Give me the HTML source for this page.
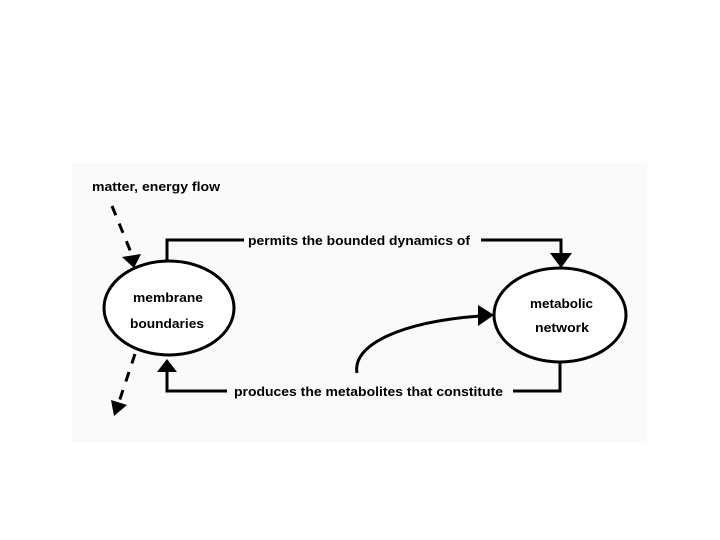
<!DOCTYPE html>
<html><head><meta charset="utf-8"><style>
html,body{margin:0;padding:0;background:#fff;}
svg{display:block;}
text{font-family:"Liberation Sans",sans-serif;font-size:13px;font-weight:bold;fill:#000;}
</style></head><body>
<svg width="720" height="540" viewBox="0 0 720 540">
<rect x="72" y="163" width="575" height="280" fill="#fafafa"/>
<text x="92" y="191" textLength="128" lengthAdjust="spacingAndGlyphs">matter, energy flow</text>
<ellipse cx="169" cy="308" rx="65" ry="47" fill="#fff" stroke="#000" stroke-width="3"/>
<ellipse cx="560" cy="315" rx="66" ry="47" fill="#fff" stroke="#000" stroke-width="3"/>
<text x="133" y="302" textLength="70" lengthAdjust="spacingAndGlyphs">membrane</text>
<text x="130" y="328" textLength="74" lengthAdjust="spacingAndGlyphs">boundaries</text>
<text x="530" y="308" textLength="63" lengthAdjust="spacingAndGlyphs">metabolic</text>
<text x="535" y="332" textLength="54" lengthAdjust="spacingAndGlyphs">network</text>
<polyline points="167,261 167,240 244,240" fill="none" stroke="#000" stroke-width="3"/>
<text x="248" y="245" textLength="222" lengthAdjust="spacingAndGlyphs">permits the bounded dynamics of</text>
<polyline points="481,240 561,240 561,256" fill="none" stroke="#000" stroke-width="3"/>
<polygon points="550,253 572,253 561,268" fill="#000"/>
<polyline points="560,362 560,391 513,391" fill="none" stroke="#000" stroke-width="3"/>
<text x="234" y="396" textLength="269" lengthAdjust="spacingAndGlyphs">produces the metabolites that constitute</text>
<polyline points="227,391 167,391 167,370" fill="none" stroke="#000" stroke-width="3"/>
<polygon points="157,372 177,372 167,359" fill="#000"/>
<path d="M357,373 C352,345 400,322 480,316" fill="none" stroke="#000" stroke-width="3"/>
<polygon points="478,305 494,315 478,326" fill="#000"/>
<line x1="112" y1="206" x2="132" y2="255" stroke="#000" stroke-width="3" stroke-dasharray="10,9"/>
<polygon points="122,257 141,254 134,268" fill="#000"/>
<line x1="135" y1="354" x2="119" y2="402" stroke="#000" stroke-width="3" stroke-dasharray="10,9"/>
<polygon points="111,400 127,405 114,416" fill="#000"/>
</svg>
</body></html>
